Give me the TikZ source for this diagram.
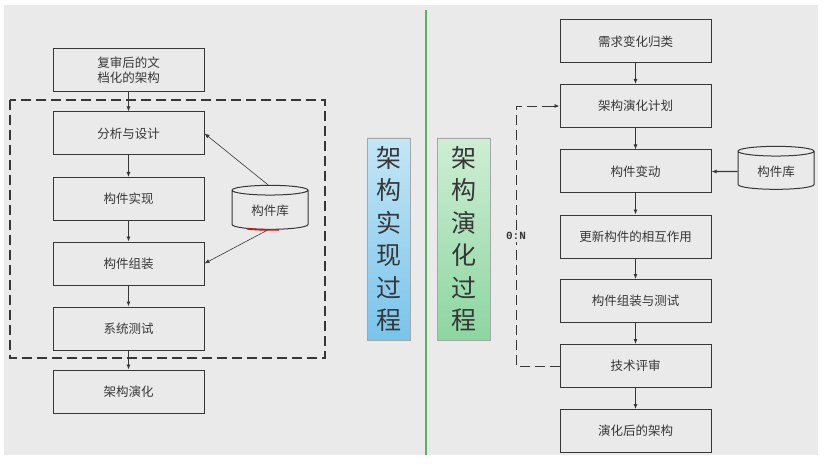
\documentclass[tikz,border=0pt]{standalone}
\usepackage{fontspec}
\setmainfont{Liberation Sans}
\newfontfamily\cjk{Noto Sans CJK SC}
\newfontfamily\monof{Liberation Mono}
\usetikzlibrary{shapes.geometric,arrows.meta}
\definecolor{bg}{RGB}{234,234,234}
\definecolor{ink}{RGB}{55,55,55}
\definecolor{bluetop}{RGB}{196,230,246}
\definecolor{bluebot}{RGB}{120,196,236}
\definecolor{greentop}{RGB}{206,238,212}
\definecolor{greenbot}{RGB}{140,214,160}
\definecolor{vline}{RGB}{92,176,100}
\tikzset{
  stepbox/.style={draw=ink, line width=1pt, fill=bg, minimum width=151pt, minimum height=43pt, inner sep=2pt, font=\cjk\fontsize{12.5}{15.5}\selectfont, text=ink, align=center},
  libbox/.style={cylinder, shape border rotate=90, aspect=0.22, draw=ink, line width=1pt, fill=bg, minimum width=76pt, minimum height=44pt, font=\cjk\fontsize{12.5}{15}\selectfont, text=ink},
  flow/.style={draw=ink, line width=0.8pt, -{Latex[length=5pt,width=4pt]}},
  vlabel/.style={draw=gray!70, line width=0.6pt, minimum height=202pt, align=center, text=ink, font=\cjk\fontsize{25}{32.5}\selectfont, inner sep=0pt}
}
\begin{document}
\begin{tikzpicture}[x=1pt,y=-1pt]
\useasboundingbox (0,0) rectangle (824,465);
\fill[white] (0,0) rectangle (824,465);
\fill[bg] (4,5) rectangle (818,455);

% left side
\node[stepbox] (rev) at (128.5,70) {复审后的文\\档化的架构};
\draw[ink, line width=1.2pt, dash pattern=on 10pt off 5pt] (10,100) rectangle (325,358);
\node[stepbox] (ana) at (128.5,133.5) {分析与设计};
\node[stepbox] (imp) at (128.5,199) {构件实现};
\node[stepbox] (asm) at (128.5,263.5) {构件组装};
\node[stepbox] (sys) at (128.5,328.5) {系统测试};
\node[stepbox] (evo) at (128.5,391.5) {架构演化};
\node[libbox] (libL) at (270,211) {\raisebox{-6pt}{构件库}};
\draw[red, line width=1.6pt] ([xshift=-23pt,yshift=1pt]libL.south) .. controls ([xshift=-12pt,yshift=0pt]libL.south) .. ([xshift=9pt]libL.south);

\draw[flow] (rev) -- (ana);
\draw[flow] (ana) -- (imp);
\draw[flow] (imp) -- (asm);
\draw[flow] (asm) -- (sys);
\draw[flow] (sys) -- (evo);
\draw[flow, line width=0.6pt] ([xshift=-2pt]libL.north) -- (ana.east);
\draw[flow, line width=0.6pt] ([xshift=-2pt]libL.south) -- (asm.east);

% labels in the middle
\node[vlabel, minimum width=43pt, top color=bluetop, bottom color=bluebot] (lblA) at (388.5,239) {架\\构\\实\\现\\过\\程};
\draw[vline, line width=2.5pt] (426,10) -- (426,455);
\node[vlabel, minimum width=53pt, top color=greentop, bottom color=greenbot] (lblB) at (463.5,239) {架\\构\\演\\化\\过\\程};

% right side
\node[stepbox] (req) at (635.5,41.5) {需求变化归类};
\node[stepbox] (plan) at (635.5,106) {架构演化计划};
\node[stepbox] (chg) at (635.5,171.5) {构件变动};
\node[stepbox] (upd) at (635.5,236.5) {更新构件的相互作用};
\node[stepbox] (tst) at (635.5,301) {构件组装与测试};
\node[stepbox] (rvw) at (635.5,366) {技术评审};
\node[stepbox] (fin) at (635.5,431) {演化后的架构};
\node[libbox, minimum height=43pt] (libR) at (776,171.5) {\raisebox{-6pt}{构件库}};

\draw[flow] (req) -- (plan);
\draw[flow] (plan) -- (chg);
\draw[flow] (chg) -- (upd);
\draw[flow] (upd) -- (tst);
\draw[flow] (tst) -- (rvw);
\draw[flow] (rvw) -- (fin);
\draw[flow, line width=1.2pt] (libR) -- (chg);

\node[font=\monof\bfseries\fontsize{11}{13}\selectfont, text=ink, inner sep=2pt] (zn) at (516,236) {0:N};
\coordinate (cb) at (516,366);
\coordinate (ct) at (516,106);
\draw[ink, line width=0.8pt, dash pattern=on 10pt off 5pt] (rvw.west) -- (cb) -- (zn.south);
\draw[ink, line width=0.8pt, dash pattern=on 10pt off 5pt] (zn.north) -- (ct) -- ([xshift=-18pt]plan.west);
\draw[flow] ([xshift=-18pt]plan.west) -- (plan.west);
\end{tikzpicture}
\end{document}
